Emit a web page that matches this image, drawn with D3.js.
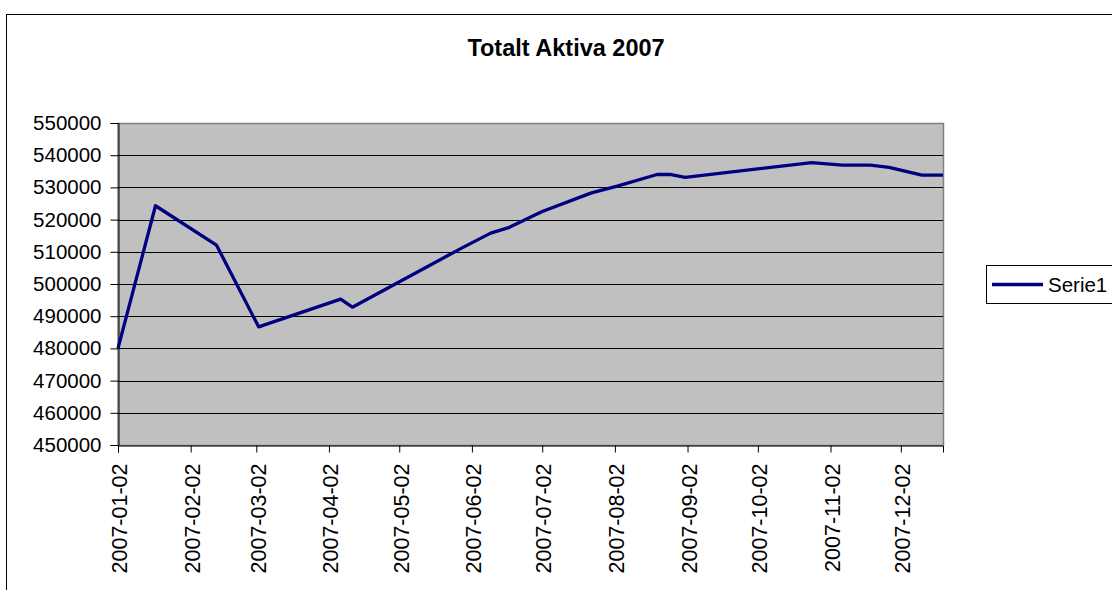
<!DOCTYPE html>
<html>
<head>
<meta charset="utf-8">
<script src="https://cdn.jsdelivr.net/npm/d3@7"></script>
<style>
  body { margin: 0; background: #fff; }
  svg { display: block; font-family: "Liberation Sans", Arial, sans-serif; }
</style>
</head>
<body>
<svg id="chart" width="1112" height="590"></svg>
<script>
// data
const dates = ["2007-01-02","2007-01-18","2007-02-13","2007-03-03","2007-04-07","2007-04-12",
  "2007-05-29","2007-06-10","2007-06-18","2007-07-02","2007-07-23","2007-08-03","2007-08-20",
  "2007-08-26","2007-09-01","2007-10-25","2007-11-07","2007-11-19","2007-11-27","2007-12-11","2007-12-20"];
const serie1 = [480000,524300,512100,486700,495300,492800,511300,515800,517600,522500,528300,
  530400,534000,534000,533100,537700,536900,536900,536200,533800,533800];
const tickDates = ["2007-01-02","2007-02-02","2007-03-02","2007-04-02","2007-05-02","2007-06-02",
  "2007-07-02","2007-08-02","2007-09-02","2007-10-02","2007-11-02","2007-12-02"];
const yTicks = [450000,460000,470000,480000,490000,500000,510000,520000,530000,540000,550000];
const title = "Totalt Aktiva 2007";
const seriesName = "Serie1";

const parse = d3.timeParse("%Y-%m-%d");
const fmt = d3.timeFormat("%Y-%m-%d");
const points = dates.map((d, i) => ({date: parse(d), value: serie1[i]}));

const svg = d3.select("#chart");
const plotL = 118, plotR = 943, plotT = 123, plotB = 445;

// outer chart frame
svg.append("rect")
  .attr("x", 6.5).attr("y", 14.5)
  .attr("width", 1200).attr("height", 700)
  .attr("fill", "#fff").attr("stroke", "#000");

svg.append("text")
  .attr("x", 566).attr("y", 55.5)
  .attr("text-anchor", "middle")
  .style("font-size", "23.5px").style("font-weight", "bold")
  .text(title);

const x = d3.scaleTime()
  .domain([parse(dates[0]), parse(dates[dates.length - 1])])
  .range([plotL, plotR]);
const y = d3.scaleLinear()
  .domain([450000, 550000])
  .range([plotB, plotT]);

// plot area
svg.append("rect")
  .attr("x", plotL).attr("y", plotT + 0.5)
  .attr("width", plotR - plotL + 0.5).attr("height", plotB - plotT)
  .attr("fill", "#c0c0c0").attr("stroke", "#808080").attr("stroke-width", 1.5);

svg.append("g")
  .selectAll("line")
  .data(yTicks.slice(1, -1))
  .enter()
  .append("line")
  .attr("x1", plotL).attr("x2", plotR)
  .attr("y1", d => Math.round(y(d)) + 0.5).attr("y2", d => Math.round(y(d)) + 0.5)
  .attr("stroke", "#000");

const yAxis = svg.append("g")
  .attr("transform", `translate(${plotL + 0.5},0)`)
  .call(d3.axisLeft(y).tickValues(yTicks).tickSize(8).tickPadding(9).tickFormat(d3.format("d")));
yAxis.selectAll("text").style("font-size", "20.5px").attr("fill", "#000");
yAxis.selectAll("line,path").attr("stroke", "#000");

const xAxis = svg.append("g")
  .attr("transform", `translate(0,${plotB + 0.5})`)
  .call(d3.axisBottom(x).tickValues(tickDates.map(parse)).tickSize(7).tickFormat(fmt));
xAxis.select(".domain").attr("stroke", "#000");
xAxis.selectAll("line").attr("stroke", "#000");
xAxis.selectAll("text")
  .style("font-size", "21.5px").attr("fill", "#000")
  .attr("text-anchor", "end")
  .attr("transform", "rotate(-90)")
  .attr("x", -18).attr("y", 1).attr("dy", "0.36em");

const line = d3.line()
  .x(d => x(d.date))
  .y(d => y(d.value));

svg.append("path")
  .datum(points)
  .attr("d", line)
  .attr("fill", "none")
  .attr("stroke", "#000080")
  .attr("stroke-width", 3.3)
  .attr("stroke-linejoin", "round");

// legend
const lg = svg.append("g");
lg.append("rect")
  .attr("x", 986.5).attr("y", 265.5)
  .attr("width", 200).attr("height", 38)
  .attr("fill", "#fff").attr("stroke", "#000");
lg.append("line")
  .attr("x1", 992).attr("x2", 1043)
  .attr("y1", 284.5).attr("y2", 284.5)
  .attr("stroke", "#000080").attr("stroke-width", 3.3);
lg.append("text")
  .attr("x", 1048).attr("y", 291.5)
  .style("font-size", "20.5px")
  .text(seriesName);
</script>
</body>
</html>
